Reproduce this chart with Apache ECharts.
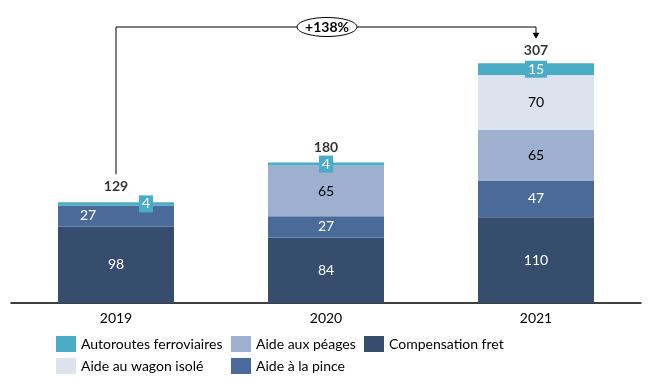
<!DOCTYPE html>
<html><head><meta charset="utf-8">
<script src="https://cdn.jsdelivr.net/npm/echarts@6/dist/echarts.min.js"></script>
<style>html,body{margin:0;padding:0;background:#fff}#c{width:661px;height:389px}</style>
</head><body><div id="c"></div>
<script>
// ---- data ----
const years = ['2019', '2020', '2021'];
const compensationFret = [98, 84, 110];
const aidePince = [27, 27, 47];
const aidePeages = [0, 65, 65];
const aideWagon = [0, 0, 70];
const autoroutes = [4, 4, 15];
const totals = [129, 180, 307];
const growthLabel = '+138%';

// ---- styles ----
const FONT = 'Lato';
const FS = 14;
const colors = {
  fret: '#374D6E', pince: '#4A6A9A', peages: '#9DB0CF', wagon: '#DCE3EE', auto: '#4BACC6'
};
// per-bar label offsets (layout, not data)
const labelOffsets = {
  pince: [[-28, 0], [0, 0], [0, 0]],
  auto: [[30, 0], [0, 0], [0, 0]]
};
const totalDistances = [8, 8, 5];

function items(values, key) {
  return values.map((v, i) => {
    const it = { value: v };
    if (v === 0) it.label = { show: false };
    else if (labelOffsets[key]) it.label = { offset: labelOffsets[key][i] };
    return it;
  });
}

function barSeries(name, values, key, textColor, extraLabel) {
  return {
    name, type: 'bar', stack: 'total', barWidth: 116,
    itemStyle: { color: colors[key] },
    label: Object.assign({
      show: true, position: 'inside', color: textColor,
      fontFamily: FONT, fontSize: FS
    }, extraLabel || {}),
    emphasis: { disabled: true },
    data: items(values, key)
  };
}

const chart = echarts.init(document.getElementById('c'), null, { renderer: 'canvas' });
const legendText = { fontFamily: FONT, fontSize: FS, color: '#000' };
const legendBase = {
  orient: 'vertical', top: 336, padding: 0, itemWidth: 20, itemHeight: 16,
  itemGap: 6, textStyle: legendText, icon: 'rect', selectedMode: false
};

chart.setOption({
  animation: false,
  grid: { left: 11, right: 20, top: 37.6, bottom: 86, containLabel: false },
  xAxis: {
    type: 'category', data: years,
    axisLine: { lineStyle: { color: '#000', width: 1.5 } },
    axisTick: { show: false },
    axisLabel: { color: '#000', fontFamily: FONT, fontSize: FS, margin: 8 }
  },
  yAxis: { type: 'value', min: 0, max: 340, show: false, splitLine: { show: false } },
  legend: [
    Object.assign({ left: 56, data: ['Autoroutes ferroviaires', 'Aide au wagon isolé'] }, legendBase),
    Object.assign({ left: 231, data: ['Aide aux péages', 'Aide à la pince'] }, legendBase),
    Object.assign({ left: 364, data: ['Compensation fret'] }, legendBase)
  ],
  series: [
    barSeries('Compensation fret', compensationFret, 'fret', '#fff'),
    barSeries('Aide à la pince', aidePince, 'pince', '#fff'),
    barSeries('Aide aux péages', aidePeages, 'peages', '#000'),
    barSeries('Aide au wagon isolé', aideWagon, 'wagon', '#000'),
    barSeries('Autoroutes ferroviaires', autoroutes, 'auto', '#fff',
      { backgroundColor: colors.auto, padding: [2, 3, 1, 3] }),
    {
      name: 'Total', type: 'scatter', symbolSize: 1, itemStyle: { color: 'rgba(0,0,0,0)' },
      silent: true,
      label: { show: true, position: 'top', color: '#000', fontFamily: FONT, fontSize: FS, fontWeight: 'bold' },
      data: totals.map((v, i) => ({ value: v, label: { distance: totalDistances[i] } }))
    }
  ]
});

// ---- growth bracket annotation, anchored to the data ----
const p0 = chart.convertToPixel({ gridIndex: 0 }, [0, totals[0]]);
const p1 = chart.convertToPixel({ gridIndex: 0 }, [1, totals[1]]);
const p2 = chart.convertToPixel({ gridIndex: 0 }, [2, totals[2]]);
const topY = 27;
const startY = p0[1] - 28;
const tipY = p2[1] - 24.5;
chart.setOption({
  graphic: [
    { type: 'polyline', z: 100, shape: { points: [[p0[0], startY], [p0[0], topY], [p2[0], topY], [p2[0], tipY - 5]] },
      style: { stroke: '#000', lineWidth: 1, fill: null } },
    { type: 'polygon', z: 100, shape: { points: [[p2[0] - 3.5, tipY - 6], [p2[0] + 3.5, tipY - 6], [p2[0], tipY]] },
      style: { fill: '#000' } },
    { type: 'ellipse', z: 101, shape: { cx: p1[0] + 1, cy: topY, rx: 30, ry: 9.5 },
      style: { fill: '#fff', stroke: '#000', lineWidth: 1 } },
    { type: 'text', z: 102, x: p1[0] + 1, y: topY,
      style: { text: growthLabel, fill: '#000', font: 'bold ' + FS + 'px ' + FONT, align: 'center', verticalAlign: 'middle' } }
  ]
});
</script>
</body></html>
